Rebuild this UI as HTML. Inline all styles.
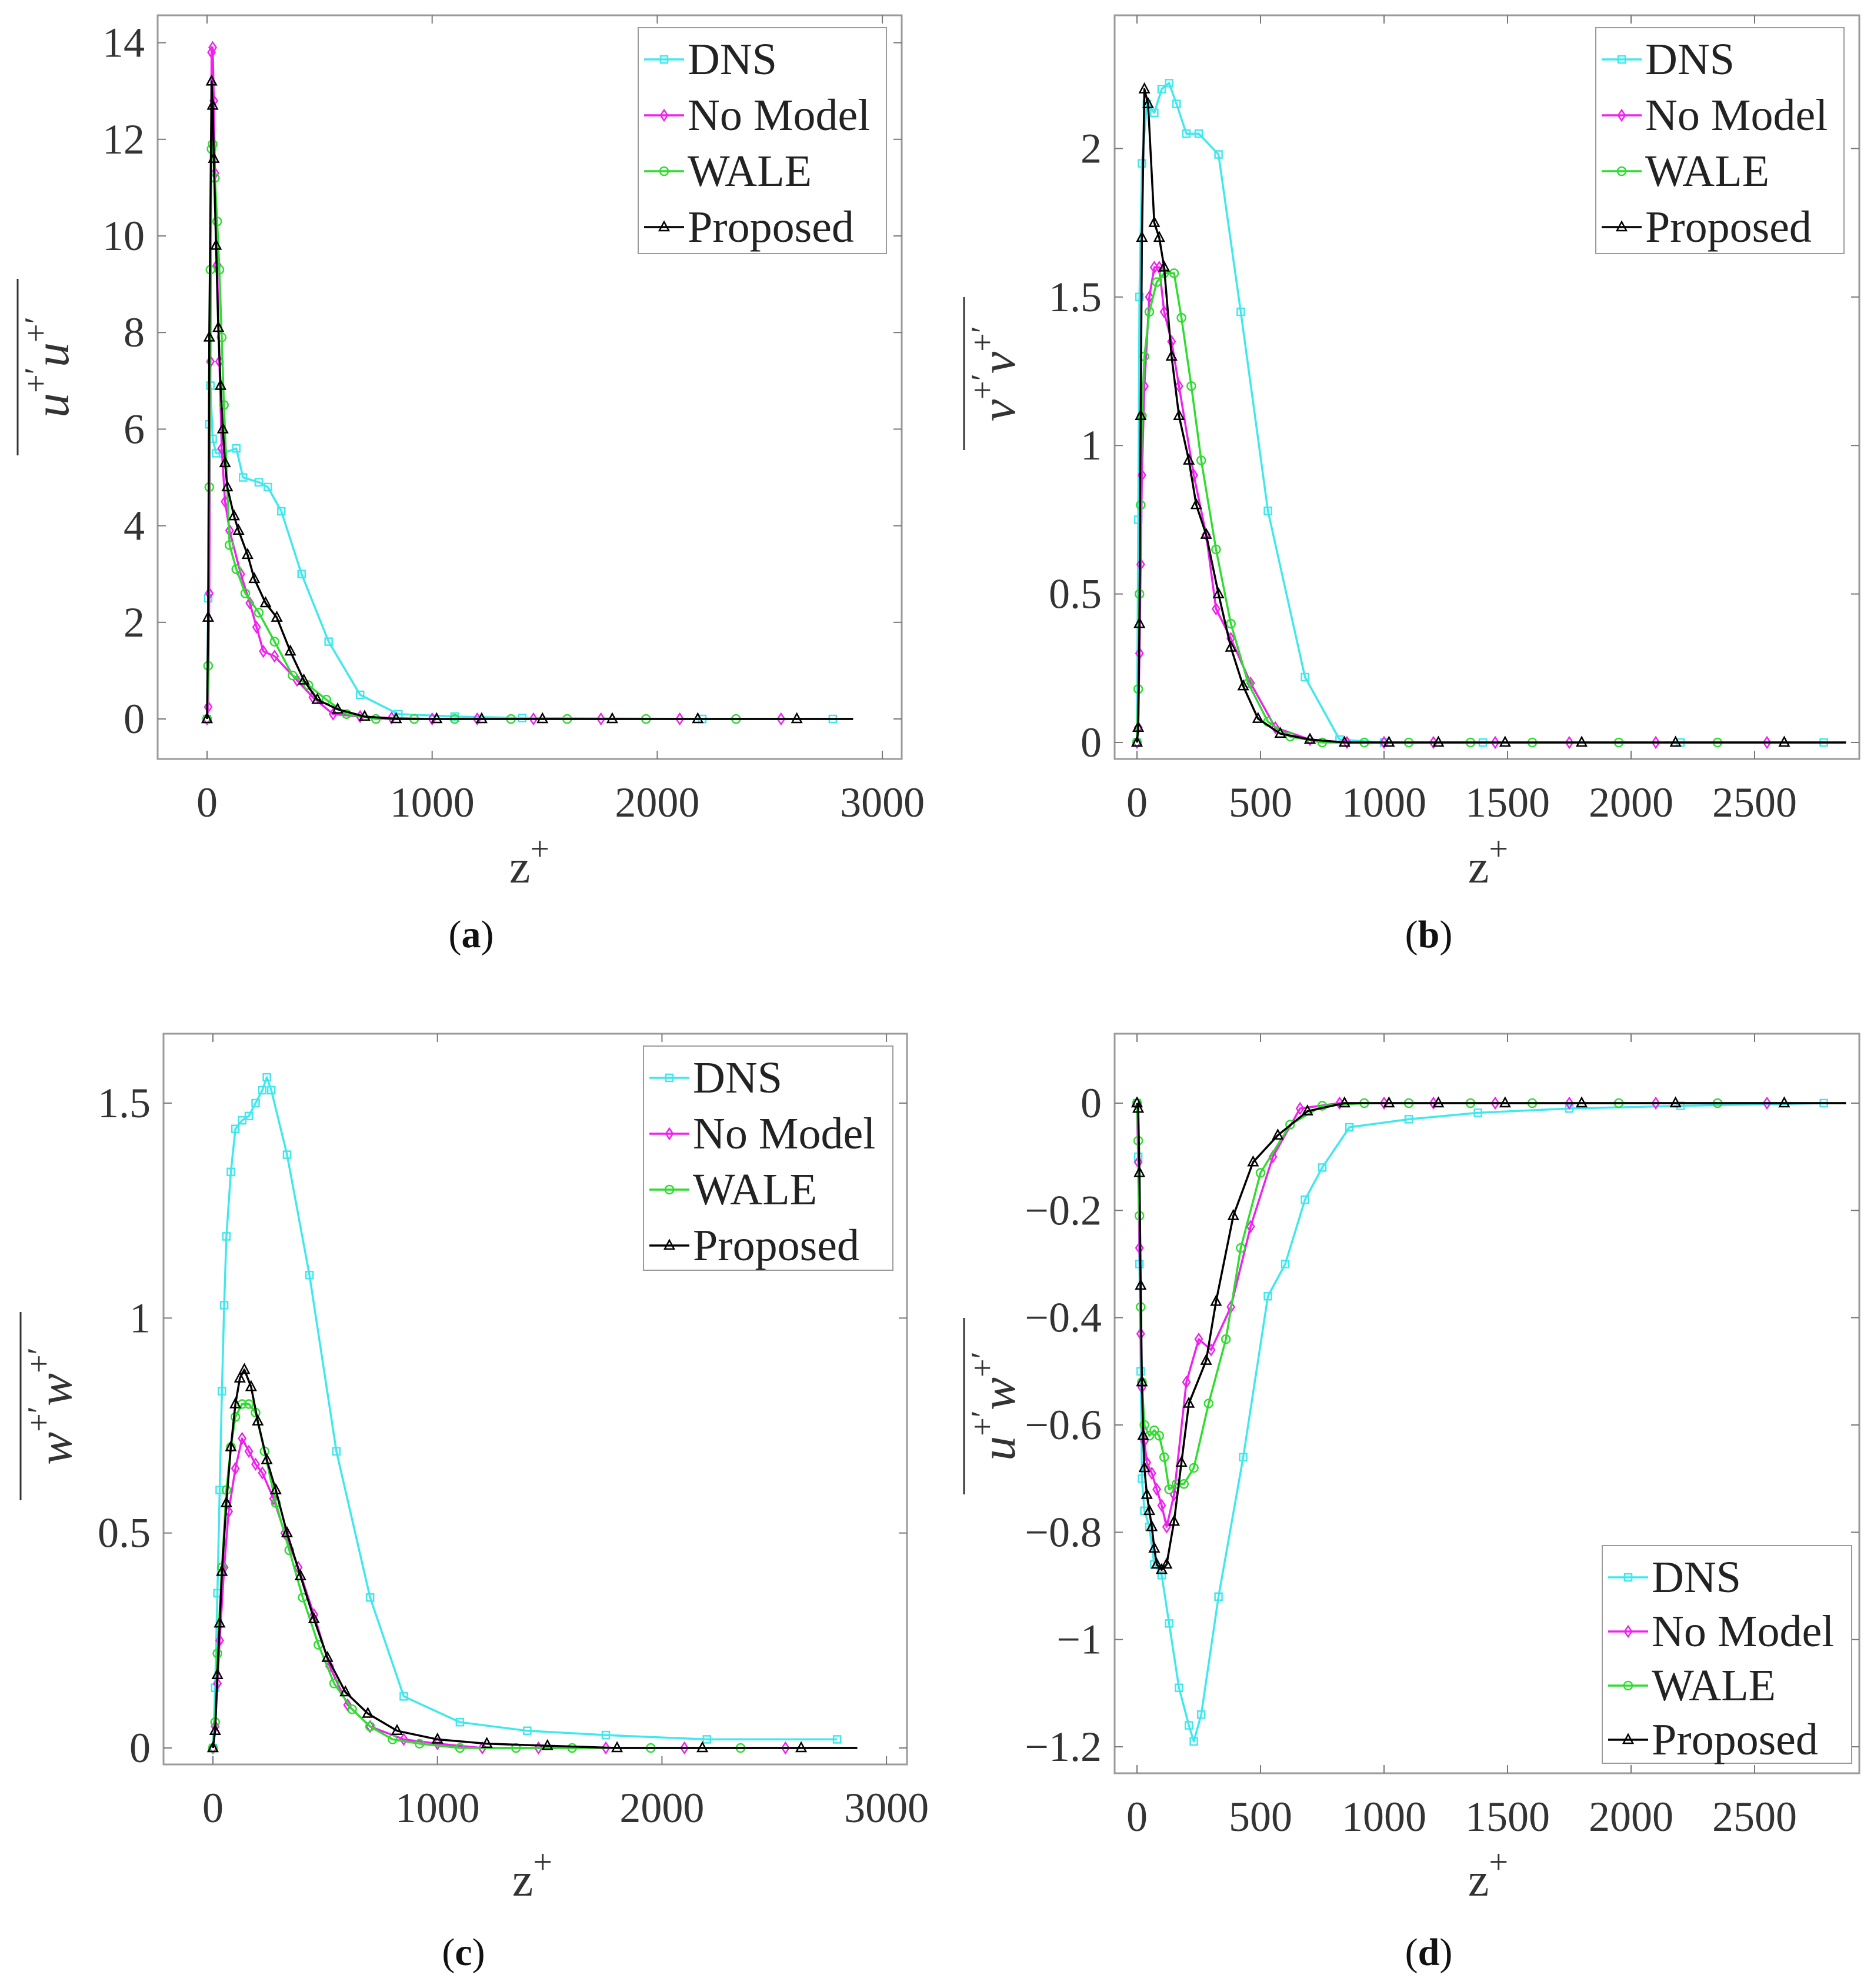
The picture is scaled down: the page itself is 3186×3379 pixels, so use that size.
<!DOCTYPE html>
<html><head><meta charset="utf-8">
<style>
html,body{margin:0;padding:0;background:#fff;}
svg{display:block;}
svg text{font-family:"Liberation Serif","Times New Roman",serif;}
</style></head>
<body>
<svg id="chart" width="3186" height="3379" viewBox="0 0 3186 3379" xmlns="http://www.w3.org/2000/svg" font-family="Liberation Serif, serif">
</svg>
<script>
// ---------- Panel (a): u+'u+' ----------
const zA_DNS=[0,5,10,15,25,40,70,130,160,230,270,330,420,540,680,850,1100,1400,2200,2780];
const vA_DNS=[0,2.5,6.1,6.9,5.8,5.5,5.5,5.6,5.0,4.9,4.8,4.3,3.0,1.6,0.5,0.1,0.05,0.02,0,0];
const zA_NM=[0,5,10,15,20,25,30,35,45,55,65,80,100,150,190,220,250,300,400,470,560,680,820,1000,1200,1450,1750,2100,2550,2870];
const vA_NM=[0,0.25,2.6,7.4,13.8,13.9,12.8,11.3,9.4,7.4,5.6,4.5,3.9,3.0,2.4,1.9,1.4,1.3,0.8,0.45,0.1,0.05,0.02,0,0,0,0,0,0,0];
const zA_WA=[0,5,10,15,20,25,35,45,55,65,75,100,130,170,230,300,380,450,530,620,750,920,1100,1350,1600,1950,2350,2870];
const vA_WA=[0,1.1,4.8,9.3,11.8,11.9,11.2,10.3,9.3,7.9,6.5,3.6,3.1,2.6,2.2,1.6,0.9,0.7,0.4,0.1,0,0,0,0,0,0,0,0];
const zA_PR=[0,5,10,20,25,30,40,50,60,70,80,90,120,140,180,210,260,310,370,430,490,580,700,840,1020,1220,1490,1800,2180,2620,2870];
const vA_PR=[0,2.1,7.9,13.2,12.7,11.6,9.8,8.1,6.9,6.0,5.3,4.8,4.2,3.9,3.4,2.9,2.4,2.1,1.4,0.8,0.4,0.2,0.05,0,0,0,0,0,0,0,0];
const xTicksA=[0,1000,2000,3000];
const yTicksA=[0,2,4,6,8,10,12,14];
const yTickLabelsA=["0","2","4","6","8","10","12","14"];

// ---------- Panel (b): v+'v+' ----------
const zB_DNS=[0,5,10,20,40,70,100,130,160,200,250,330,420,530,680,820,1000,1400,2200,2780];
const vB_DNS=[0,0.75,1.5,1.95,2.15,2.12,2.2,2.22,2.15,2.05,2.05,1.98,1.45,0.78,0.22,0.01,0,0,0,0];
const zB_NM=[0,5,10,15,20,30,50,70,90,110,140,170,230,280,320,380,460,560,700,850,1000,1200,1450,1750,2100,2550,2870];
const vB_NM=[0,0.05,0.3,0.6,0.9,1.2,1.5,1.6,1.6,1.45,1.35,1.2,0.9,0.7,0.45,0.35,0.2,0.05,0.01,0,0,0,0,0,0,0,0];
const zB_WA=[0,5,10,15,20,30,50,80,110,150,180,220,260,320,380,450,530,620,750,920,1100,1350,1600,1950,2350,2870];
const vB_WA=[0,0.18,0.5,0.8,1.1,1.3,1.45,1.55,1.58,1.58,1.43,1.2,0.95,0.65,0.4,0.2,0.07,0.02,0,0,0,0,0,0,0,0];
const zB_PR=[0,5,10,15,20,30,45,70,90,110,140,170,210,240,280,330,380,430,490,580,700,840,1020,1220,1490,1800,2180,2620,2870];
const vB_PR=[0,0.05,0.4,1.1,1.7,2.2,2.15,1.75,1.7,1.6,1.3,1.1,0.95,0.8,0.7,0.5,0.32,0.19,0.08,0.03,0.01,0,0,0,0,0,0,0,0];
const xTicksB=[0,500,1000,1500,2000,2500];
const yTicksB=[0,0.5,1,1.5,2];
const yTickLabelsB=["0","0.5","1","1.5","2"];

// ---------- Panel (c): w+'w+' ----------
const zC_DNS=[0,10,20,30,40,50,60,80,100,130,160,190,220,240,260,330,430,550,700,850,1100,1400,1750,2200,2780];
const vC_DNS=[0,0.14,0.36,0.6,0.83,1.03,1.19,1.34,1.44,1.46,1.47,1.5,1.53,1.56,1.53,1.38,1.1,0.69,0.35,0.12,0.06,0.04,0.03,0.02,0.02];
const zC_NM=[0,10,20,30,50,70,100,130,160,190,220,270,320,380,450,520,600,700,850,1000,1200,1450,1750,2100,2550,2870];
const vC_NM=[0,0.05,0.15,0.25,0.42,0.55,0.65,0.72,0.69,0.66,0.64,0.58,0.5,0.42,0.31,0.19,0.1,0.05,0.02,0.01,0,0,0,0,0,0];
const zC_WA=[0,10,20,40,60,80,100,130,160,190,230,280,340,400,470,540,620,700,800,920,1100,1350,1600,1950,2350,2870];
const vC_WA=[0,0.06,0.22,0.42,0.6,0.7,0.77,0.8,0.8,0.78,0.69,0.57,0.46,0.35,0.24,0.15,0.09,0.05,0.02,0.01,0,0,0,0,0,0];
const zC_PR=[0,10,20,30,40,60,80,100,120,140,170,200,240,280,330,390,450,510,590,690,820,1000,1220,1490,1800,2180,2620,2870];
const vC_PR=[0,0.04,0.17,0.29,0.41,0.57,0.7,0.8,0.86,0.88,0.84,0.76,0.67,0.6,0.5,0.4,0.3,0.21,0.13,0.08,0.04,0.02,0.01,0.005,0,0,0,0];
const xTicksC=[0,1000,2000,3000];
const yTicksC=[0,0.5,1,1.5];
const yTickLabelsC=["0","0.5","1","1.5"];

// ---------- Panel (d): u+'w+' ----------
const zD_DNS=[0,5,10,15,20,30,50,70,100,130,170,210,230,260,330,430,530,600,680,750,860,1100,1380,1750,2200,2780];
const vD_DNS=[0,-0.1,-0.3,-0.5,-0.7,-0.76,-0.79,-0.86,-0.88,-0.97,-1.09,-1.16,-1.19,-1.14,-0.92,-0.66,-0.36,-0.3,-0.18,-0.12,-0.045,-0.03,-0.018,-0.01,-0.005,0];
const zD_NM=[0,5,10,15,20,30,40,60,80,100,120,150,200,250,300,380,460,550,660,820,1000,1200,1450,1750,2100,2550,2870];
const vD_NM=[0,-0.11,-0.27,-0.43,-0.53,-0.63,-0.67,-0.69,-0.72,-0.75,-0.79,-0.73,-0.52,-0.44,-0.46,-0.38,-0.23,-0.1,-0.01,0,0,0,0,0,0,0,0];
const zD_WA=[0,5,10,15,20,30,50,70,90,110,130,160,190,230,290,360,420,500,620,750,920,1100,1350,1600,1950,2350,2870];
const vD_WA=[0,-0.07,-0.21,-0.38,-0.52,-0.6,-0.62,-0.61,-0.62,-0.66,-0.72,-0.71,-0.71,-0.68,-0.56,-0.44,-0.27,-0.13,-0.04,-0.005,0,0,0,0,0,0,0];
const zD_PR=[0,5,10,15,20,25,30,40,50,60,70,80,100,120,150,180,210,280,320,390,470,570,690,840,1020,1220,1490,1800,2180,2620,2870];
const vD_PR=[0,-0.01,-0.13,-0.34,-0.52,-0.62,-0.68,-0.73,-0.76,-0.79,-0.83,-0.86,-0.87,-0.86,-0.78,-0.67,-0.56,-0.48,-0.37,-0.21,-0.11,-0.06,-0.015,0,0,0,0,0,0,0,0];
const xTicksD=[0,500,1000,1500,2000,2500];
const yTicksD=[0,-0.2,-0.4,-0.6,-0.8,-1,-1.2];
const yTickLabelsD=["0","\u22120.2","\u22120.4","\u22120.6","\u22120.8","\u22121","\u22121.2"];

const legendNames=["DNS","No Model","WALE","Proposed"];
const COLORS=["#3fe8ee","#f020f0","#2fdc2f","#000000"];
const MARKS=["square","diamond","circle","triangle"];
const FONT="Liberation Serif, Times New Roman, serif";

const NS="http://www.w3.org/2000/svg";
const svg=document.getElementById('chart');
function mk(tag,attrs,parent){const e=document.createElementNS(NS,tag);for(const k in attrs)e.setAttribute(k,attrs[k]);if(tag==='text')e.setAttribute('font-family',FONT);(parent||svg).appendChild(e);return e;}

function marker(g,kind,x,y,color){
  const s=6;let e;
  if(kind==="square")e=mk('rect',{x:x-s,y:y-s,width:2*s,height:2*s,fill:'none',stroke:color,'stroke-width':2.5},g);
  else if(kind==="diamond")e=mk('polygon',{points:`${x},${y-s-3} ${x+s},${y} ${x},${y+s+3} ${x-s},${y}`,fill:'none',stroke:color,'stroke-width':2.5},g);
  else if(kind==="circle")e=mk('circle',{cx:x,cy:y,r:s+1,fill:'none',stroke:color,'stroke-width':2.5},g);
  else e=mk('polygon',{points:`${x},${y-s-3} ${x+s+2},${y+s} ${x-s-2},${y+s}`,fill:'none',stroke:color,'stroke-width':2.5},g);
  
  
}

function panel(p){
  const g=mk('g',{});
  
  
  const X=z=>p.x0+z*p.xs, Y=v=>p.y0-v*p.ys;
  const box=mk('rect',{x:p.L,y:p.T,width:p.R-p.L,height:p.B-p.T,fill:'#fff',stroke:'#9a9a9a','stroke-width':3},g);
  
  
  p.xt.forEach(t=>{
    const x=X(t);
    mk('line',{x1:x,y1:p.B,x2:x,y2:p.B-14,stroke:'#777','stroke-width':2},g);
    mk('line',{x1:x,y1:p.T,x2:x,y2:p.T+14,stroke:'#777','stroke-width':2},g);
    const tx=mk('text',{x:x,y:p.B+98,'font-size':72,'text-anchor':'middle',fill:'#333'},g);
    tx.textContent=String(t);
    
    
  });
  p.yt.forEach((t,i)=>{
    const y=Y(t);
    mk('line',{x1:p.L,y1:y,x2:p.L+14,y2:y,stroke:'#777','stroke-width':2},g);
    mk('line',{x1:p.R,y1:y,x2:p.R-14,y2:y,stroke:'#777','stroke-width':2},g);
    const tx=mk('text',{x:p.L-22,y:y+24,'font-size':72,'text-anchor':'end',fill:'#333'},g);
    tx.textContent=p.ytl[i];
    
    
  });
  p.series.forEach((s,k)=>{
    const sg=mk('g',{},g);
    
    
    const pts=s[0].map((z,i)=>X(z).toFixed(1)+','+Y(s[1][i]).toFixed(1)).join(' ');
    mk('polyline',{points:pts,fill:'none',stroke:COLORS[k],'stroke-width':3.5,'stroke-linejoin':'round'},sg);
    const n=s[0].length-(k===0?0:1);
    for(let i=0;i<n;i++)marker(sg,MARKS[k],X(s[0][i]),Y(s[1][i]),COLORS[k]);
  });
  const lg=mk('g',{},g);
  
  
  mk('rect',{x:p.lg[0],y:p.lg[1],width:p.lg[2],height:p.lg[3],fill:'#fff',stroke:'#9a9a9a','stroke-width':2},lg);
  legendNames.forEach((n,k)=>{
    const y=p.lg[1]+54+k*p.lg[4];
    const x=p.lg[0]+10;
    mk('line',{x1:x,y1:y,x2:x+68,y2:y,stroke:COLORS[k],'stroke-width':3.5},lg);
    marker(lg,MARKS[k],x+34,y,COLORS[k]);
    const t=mk('text',{x:x+74,y:y+25,'font-size':76,fill:'#222'},lg);
    t.textContent=n;
    
    
  });
  const xl=mk('text',{x:p.xl[0],y:p.xl[1],'font-size':80,'text-anchor':'middle',fill:'#333'},g);
  xl.innerHTML='z<tspan dy="-38" font-size="58">+</tspan>';
  
  
  const yl=mk('g',{transform:`translate(${p.yl[0]},${p.yl[1]}) rotate(-90)`},g);
  
  
  const yt=mk('text',{x:0,y:24,'font-size':84,'font-style':'italic','text-anchor':'middle',fill:'#333'},yl);
  yt.innerHTML=`${p.ylab[0]}<tspan dy="-36" font-size="56" font-style="normal">+\u2032</tspan><tspan dy="36">${p.ylab[1]}</tspan><tspan dy="-36" font-size="56" font-style="normal">+\u2032</tspan>`;
  mk('line',{x1:-p.yl[2],y1:-62,x2:p.yl[2],y2:-62,stroke:'#333','stroke-width':3},yl);
  const c=mk('text',{x:p.cap[0],y:p.cap[1],'font-size':66,'text-anchor':'middle',fill:'#111'},g);
  c.innerHTML=`(<tspan font-weight="bold">${p.id}</tspan>)`;
  
  
}

panel({id:'a',L:268,R:1533,T:26,B:1290,x0:352,xs:0.3827,y0:1222,ys:82.1,
  xt:xTicksA,yt:yTicksA,ytl:yTickLabelsA,
  series:[[zA_DNS,vA_DNS],[zA_NM,vA_NM],[zA_WA,vA_WA],[zA_PR,vA_PR]],
  lg:[1085,47,422,384,95],xl:[900,1500],yl:[92,624,150],ylab:['u','u'],cap:[801,1610]});
panel({id:'b',L:1895,R:3161,T:26,B:1290,x0:1933,xs:0.42,y0:1262,ys:504.8,
  xt:xTicksB,yt:yTicksB,ytl:yTickLabelsB,
  series:[[zB_DNS,vB_DNS],[zB_NM,vB_NM],[zB_WA,vB_WA],[zB_PR,vB_PR]],
  lg:[2713,47,422,384,95],xl:[2530,1500],yl:[1701,635,130],ylab:['v','v'],cap:[2429,1610]});
panel({id:'c',L:278,R:1542,T:1757,B:2999,x0:362,xs:0.3817,y0:2971,ys:730.7,
  xt:xTicksC,yt:yTicksC,ytl:yTickLabelsC,
  series:[[zC_DNS,vC_DNS],[zC_NM,vC_NM],[zC_WA,vC_WA],[zC_PR,vC_PR]],
  lg:[1094,1778,424,381,95],xl:[905,3222],yl:[97,2390,160],ylab:['w','w'],cap:[788,3340]});
panel({id:'d',L:1895,R:3161,T:1757,B:3014,x0:1933,xs:0.42,y0:1875,ys:911.7,
  xt:xTicksD,yt:yTicksD,ytl:yTickLabelsD,
  series:[[zD_DNS,vD_DNS],[zD_NM,vD_NM],[zD_WA,vD_WA],[zD_PR,vD_PR]],
  lg:[2724,2627,424,370,92],xl:[2530,3222],yl:[1701,2390,150],ylab:['u','w'],cap:[2429,3340]});
</script>
</body></html>
